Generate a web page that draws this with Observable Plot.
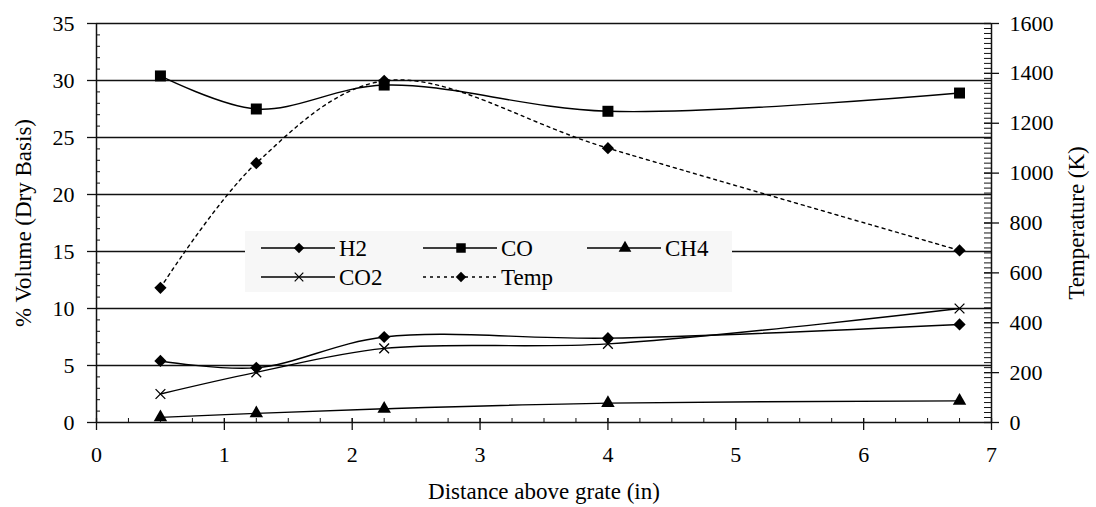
<!DOCTYPE html>
<html>
<head>
<meta charset="utf-8">
<script src="https://cdn.jsdelivr.net/npm/d3@7"></script>
<script src="https://cdn.jsdelivr.net/npm/@observablehq/plot@0.6"></script>
<style>
  html, body { margin: 0; padding: 0; background: white; }
  #wrap { position: relative; width: 1096px; height: 507px; }
</style>
</head>
<body>
<div id="wrap"></div>
<script>
// ---- data ----
const distance = [0.5, 1.25, 2.25, 4, 6.75];
const h2   = [5.4, 4.8, 7.5, 7.4, 8.6];
const co   = [30.4, 27.5, 29.6, 27.3, 28.9];
const ch4  = [0.45, 0.8, 1.2, 1.7, 1.9];
const co2  = [2.5, 4.4, 6.5, 6.9, 10.0];
const temp = [540, 1040, 1370, 1100, 690];

const xTicks = [0, 1, 2, 3, 4, 5, 6, 7];
const xMinor = d3.range(0, 7.001, 0.25);
const leftTicks = [0, 5, 10, 15, 20, 25, 30, 35];
const leftMinor = d3.range(0, 35.001, 1);
const tempTicks = [0, 200, 400, 600, 800, 1000, 1200, 1400, 1600];
const tempMinor = d3.range(0, 1600.001, 20);

const leftMax = 35, tempMax = 1600;
const k = leftMax / tempMax; // secondary axis mapping

const rows = distance.map((d, i) => ({d, h2: h2[i], co: co[i], ch4: ch4[i], co2: co2[i], temp: temp[i] * k}));

const FONT = "Liberation Serif, Times New Roman, serif";
const TICK_FS = 22, TITLE_FS = 23;
const blank = () => "";

const diamond = d3.symbolDiamond2;
const square = d3.symbolSquare;
const triangle = d3.symbolTriangle;
const times = d3.symbolTimes;

const lineOpts = {x: "d", curve: "catmull-rom", stroke: "black", strokeWidth: 1.4};

const chart = Plot.plot({
  width: 1096, height: 507,
  marginLeft: 96, marginRight: 105, marginTop: 23, marginBottom: 85,
  x: {domain: [0, 7]},
  y: {domain: [0, leftMax]},
  style: {fontFamily: FONT, fontSize: TICK_FS + "px", color: "black", background: "white", overflow: "visible"},
  marks: [
    Plot.gridY(leftTicks.filter(v => v > 0), {stroke: "#111", strokeOpacity: 1, strokeWidth: 1.3}),
    // left axis
    Plot.axisY(leftTicks, {anchor: "left", tickSize: 9, tickPadding: 13, stroke: "#111", strokeWidth: 1.3,
      tickFormat: d => String(d), fontSize: TICK_FS, label: null}),
    Plot.axisY([leftMax / 2], {anchor: "left", tickSize: 0, tickFormat: blank,
      label: "% Volume (Dry Basis)", labelAnchor: "center", labelOffset: 82, labelArrow: "none", fontSize: TITLE_FS}),
    Plot.axisY(leftMinor, {anchor: "left", tickSize: 4, dx: 4, tickFormat: blank, label: null, stroke: "#111"}),
    // right axis (temperature)
    Plot.axisY(tempTicks.map(t => t * k), {anchor: "right", tickSize: 15, dx: -8, tickFormat: blank, label: null, stroke: "#111", strokeWidth: 1.3}),
    Plot.axisY(tempMinor.map(t => t * k), {anchor: "right", tickSize: 8, dx: -8, tickFormat: blank, label: null, stroke: "#111"}),
    Plot.axisY(tempTicks.map(t => t * k), {anchor: "right", tickSize: 0, tickPadding: 18, tickFormat: d => String(Math.round(d / k)),
      label: null, fontSize: TICK_FS}),
    Plot.axisY([leftMax / 2], {anchor: "right", tickSize: 0, tickFormat: blank,
      label: "Temperature (K)", labelAnchor: "center", labelOffset: 92, labelArrow: "none", fontSize: TITLE_FS}),
    // x axis
    Plot.axisX(xTicks, {anchor: "bottom", tickSize: 12, dy: -4, tickFormat: blank, label: null, stroke: "#111", strokeWidth: 1.3}),
    Plot.axisX(xMinor, {anchor: "bottom", tickSize: 4, dy: -4, tickFormat: blank, label: null, stroke: "#111"}),
    Plot.axisX(xTicks, {anchor: "bottom", tickSize: 0, tickPadding: 24, tickFormat: d => String(d),
      label: null, fontSize: TICK_FS}),
    Plot.axisX([3.5], {anchor: "bottom", tickSize: 0, tickFormat: blank,
      label: "Distance above grate (in)", labelAnchor: "center", labelOffset: 76, labelArrow: "none", fontSize: TITLE_FS}),
    Plot.ruleY([0], {stroke: "#111", strokeWidth: 1.5}),
    Plot.ruleX([0, 7], {stroke: "#111", strokeWidth: 1.5}),
    // series
    Plot.line(rows, {...lineOpts, y: "temp", strokeDasharray: "3,4"}),
    Plot.line(rows, {...lineOpts, y: "co"}),
    Plot.line(rows, {...lineOpts, y: "h2"}),
    Plot.line(rows, {...lineOpts, y: "co2"}),
    Plot.line(rows, {...lineOpts, y: "ch4"}),
    Plot.dot(rows, {x: "d", y: "temp", symbol: diamond, r: 5.5, fill: "black", stroke: "none"}),
    Plot.dot(rows, {x: "d", y: "co", symbol: square, r: 6.2, fill: "black", stroke: "none"}),
    Plot.dot(rows, {x: "d", y: "h2", symbol: diamond, r: 5.5, fill: "black", stroke: "none"}),
    Plot.dot(rows, {x: "d", y: "co2", symbol: times, r: 4.5, fill: "none", stroke: "black", strokeWidth: 1.3}),
    Plot.dot(rows, {x: "d", y: "ch4", symbol: triangle, r: 5, fill: "black", stroke: "none"})
  ]
});

const wrap = document.getElementById("wrap");
wrap.appendChild(chart);

// ---- legend (inside the plot area) ----
const legendItems = [
  {name: "H2",   sym: diamond,  size: 70, fill: true,  dash: null, row: 0, col: 0},
  {name: "CO",   sym: square,   size: 90, fill: true,  dash: null, row: 0, col: 1},
  {name: "CH4",  sym: triangle, size: 70, fill: true,  dash: null, row: 0, col: 2},
  {name: "CO2",  sym: times,    size: 50, fill: false, dash: null, row: 1, col: 0},
  {name: "Temp", sym: diamond,  size: 70, fill: true,  dash: "3,4", row: 1, col: 1}
];
const lw = 487, lh = 61;
const leg = d3.create("svg").attr("width", lw).attr("height", lh)
  .style("position", "absolute").style("left", "245px").style("top", "231px");
leg.append("rect").attr("width", lw).attr("height", lh).attr("fill", "#f7f7f7");
const colX = [16, 178, 342];
const rowY = [17, 46];
for (const it of legendItems) {
  const x0 = colX[it.col], y0 = rowY[it.row];
  const g = leg.append("g").attr("transform", `translate(${x0},${y0})`);
  g.append("line").attr("x1", 0).attr("x2", 74).attr("y1", 0).attr("y2", 0)
    .attr("stroke", "black").attr("stroke-width", 1.4)
    .attr("stroke-dasharray", it.dash);
  g.append("path").attr("d", d3.symbol(it.sym, it.size)())
    .attr("transform", "translate(38,0)")
    .attr("fill", it.fill ? "black" : "none")
    .attr("stroke", it.fill ? "none" : "black").attr("stroke-width", 1.2);
  g.append("text").attr("x", 78).attr("y", 0).attr("dy", "0.35em")
    .attr("font-family", FONT).attr("font-size", TITLE_FS).attr("fill", "black")
    .text(it.name);
}
wrap.appendChild(leg.node());
</script>
</body>
</html>
